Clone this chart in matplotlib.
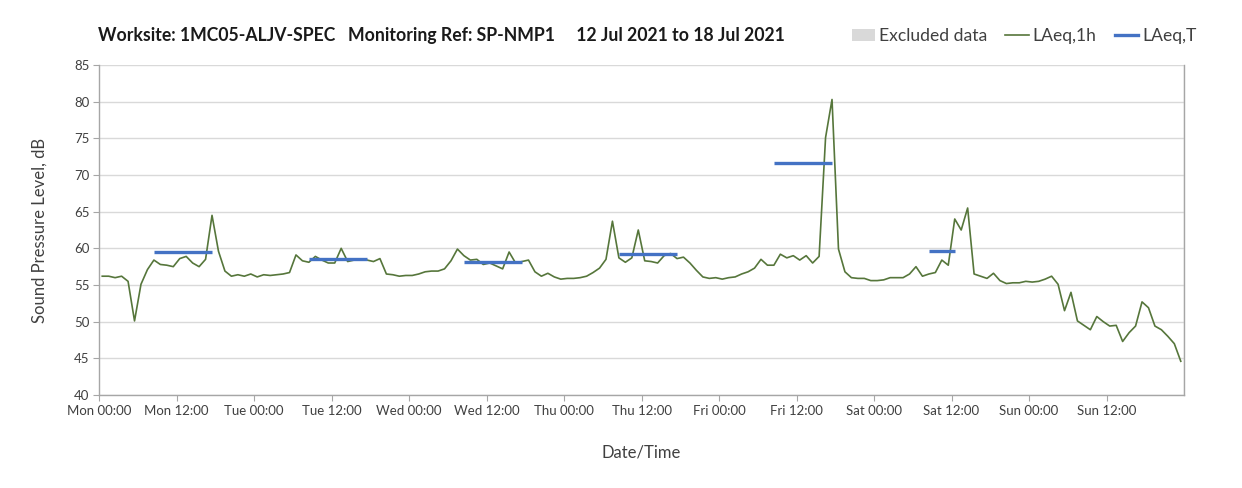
import matplotlib
matplotlib.use("Agg")
import matplotlib.pyplot as plt
import numpy as np
from matplotlib.patches import Patch
from matplotlib.lines import Line2D

plt.rcParams['font.family'] = ['Lato', 'DejaVu Sans']

# Hourly LAeq,1h values (dB), Mon 00:00 .. Sun 23:00
laeq_1h = [
    # Mon
    56.2, 56.2, 56.0, 56.2, 55.5, 50.1, 55.1, 57.1, 58.4, 57.8, 57.7, 57.5,
    58.6, 58.9, 58.0, 57.5, 58.5, 64.5, 59.6, 56.9, 56.2, 56.4, 56.2, 56.5,
    # Tue
    56.1, 56.4, 56.3, 56.4, 56.5, 56.7, 59.1, 58.3, 58.1, 58.9, 58.4, 58.0,
    58.0, 60.0, 58.2, 58.4, 58.5, 58.4, 58.2, 58.6, 56.5, 56.4, 56.2, 56.3,
    # Wed
    56.3, 56.5, 56.8, 56.9, 56.9, 57.2, 58.3, 59.9, 59.0, 58.4, 58.5, 57.8,
    58.0, 57.6, 57.2, 59.5, 58.0, 58.2, 58.4, 56.8, 56.2, 56.6, 56.1, 55.8,
    # Thu
    55.9, 55.9, 56.0, 56.2, 56.7, 57.3, 58.5, 63.7, 58.7, 58.1, 58.7, 62.5,
    58.3, 58.2, 58.0, 59.0, 59.3, 58.6, 58.8, 58.0, 57.0, 56.1, 55.9, 56.0,
    # Fri
    55.8, 56.0, 56.1, 56.5, 56.8, 57.3, 58.5, 57.7, 57.7, 59.2, 58.7, 59.0,
    58.4, 59.0, 58.0, 58.9, 75.1, 80.3, 59.9, 56.8, 56.0, 55.9, 55.9, 55.6,
    # Sat
    55.6, 55.7, 56.0, 56.0, 56.0, 56.5, 57.5, 56.2, 56.5, 56.7, 58.4, 57.7,
    64.0, 62.5, 65.5, 56.5, 56.2, 55.9, 56.6, 55.6, 55.2, 55.3, 55.3, 55.5,
    # Sun
    55.4, 55.5, 55.8, 56.2, 55.1, 51.5, 54.0, 50.1, 49.5, 48.9, 50.7, 50.0,
    49.4, 49.5, 47.3, 48.5, 49.4, 52.7, 51.9, 49.4, 48.9, 48.0, 47.0, 44.6,
]

# LAeq,T daytime periods: (day index, start hour, end hour, level)
period_day = [0, 1, 2, 3, 4, 5]
period_start = [8, 8, 8, 8, 8, 8]
period_end = [18, 18, 18, 18, 18, 13]
period_level = [59.5, 58.55, 58.2, 59.2, 71.7, 59.7]

day_names = ["Mon", "Tue", "Wed", "Thu", "Fri", "Sat", "Sun"]
tick_labels = [f"{d} {h}" for d in day_names for h in ("00:00", "12:00")]

W, H = 1242, 488
fig = plt.figure(figsize=(W / 100, H / 100), dpi=100)
ax = fig.add_axes([99 / W, 1 - 395 / H, (1184 - 99) / W, (395 - 65) / H])

hours = np.arange(len(laeq_1h)) + 0.5
green = "#56763b"
blue = "#4472c4"
ax.plot(hours, laeq_1h, color=green, lw=1.2, zorder=3)

for d, s, e, lv in zip(period_day, period_start, period_end, period_level):
    ax.plot([d * 24 + s + 0.5, d * 24 + e - 0.5], [lv, lv], color=blue,
            lw=2.4, solid_capstyle="butt", zorder=4)

ax.set_xlim(0, 168)
ax.set_ylim(40, 85)
ax.set_yticks(np.arange(40, 86, 5))
ax.set_xticks(np.arange(0, 168, 12))
ax.set_xticklabels(tick_labels)
ax.set_xticks(np.arange(0, 169, 24), minor=True)

ax.grid(axis="y", which="major", color="#d9d9d9", lw=1.0)
ax.grid(axis="x", which="minor", color="#d9d9d9", lw=1.0)
ax.set_axisbelow(True)

for side in ("left", "bottom", "right"):
    ax.spines[side].set_color("#a6a6a6")
    ax.spines[side].set_linewidth(1.0)
ax.spines["top"].set_visible(False)

ax.tick_params(axis="both", which="major", direction="out", length=4,
               color="#a6a6a6", labelsize=9.5, labelcolor="#404040", pad=3)
ax.tick_params(axis="x", which="minor", length=0)

ax.set_ylabel("Sound Pressure Level, dB", fontsize=12, color="#404040", labelpad=19)
ax.set_xlabel("Date/Time", fontsize=12, color="#404040", labelpad=20)

fig.text(98 / W, 1 - 36 / H,
         "Worksite: 1MC05-ALJV-SPEC   Monitoring Ref: SP-NMP1     12 Jul 2021 to 18 Jul 2021",
         fontsize=12.7, fontweight="bold", color="#1a1a1a", va="center", ha="left")

handles = [
    Patch(facecolor="#d9d9d9", edgecolor="none"),
    Line2D([0], [0], color=green, lw=1.2),
    Line2D([0], [0], color=blue, lw=2.4),
]
fig.legend(handles, ["Excluded data", "LAeq,1h", "LAeq,T"], loc="center right",
           bbox_to_anchor=(1212 / W, 1 - 36 / H), ncol=3, frameon=False,
           fontsize=12.6, handlelength=1.35, handletextpad=0.2, columnspacing=1.05,
           labelcolor="#404040")

fig.savefig("out.png", dpi=100, facecolor="white")
